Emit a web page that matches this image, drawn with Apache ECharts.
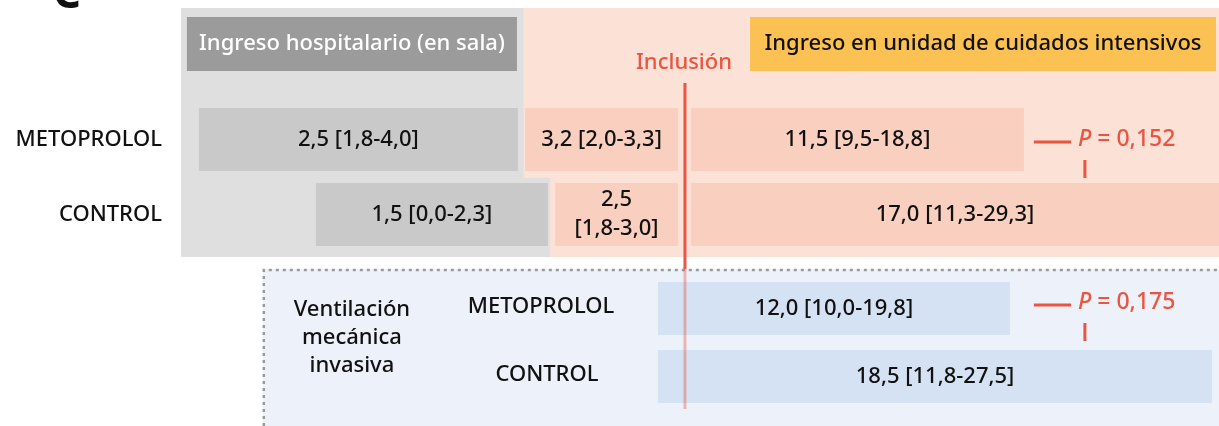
<!DOCTYPE html>
<html>
<head>
<meta charset="utf-8">
<script src="https://cdn.jsdelivr.net/npm/echarts@6/dist/echarts.min.js"></script>
<style>
html,body{margin:0;padding:0;background:#fff}
#chart{width:1219px;height:426px}
</style>
</head>
<body>
<div id="chart"></div>
<script>
var groups = ['METOPROLOL', 'CONTROL'];
var wardStart = [-16.2, -12.3];
var wardEnd = [-5.57, -4.57];
var wardText = ['2,5 [1,8-4,0]', '1,5 [0,0-2,3]'];
var preStart = [-5.33, -4.33];
var preEnd = [-0.23, -0.23];
var preText = ['3,2 [2,0-3,3]', '2,5\n[1,8-3,0]'];
var icuStart = [0.2, 0.2];
var icuEnd = [11.3, 17.8];
var icuText = ['11,5 [9,5-18,8]', '17,0 [11,3-29,3]'];
var ventStart = [-0.9, -0.9];
var ventEnd = [10.83, 17.57];
var ventText = ['12,0 [10,0-19,8]', '18,5 [11,8-27,5]'];
var pValues = ['0,152', '0,175'];
var headers = ['Ingreso hospitalario (en sala)', 'Ingreso en unidad de cuidados intensivos'];
var ventTitle = 'Ventilación\nmecánica\ninvasiva';
var inclusionText = 'Inclusión';

// estilo y posiciones
var FONT = '"Noto Sans", sans-serif';
var FS = 22, FW = 500;
var RED = '#ea5541';
var topRowY = [139.5, 214.5], topBarH = 63;
var ventRowY = [308.5, 376.5], ventBarH = 53;

//construir barras
var bars = [], barMeta = [];
function addPhase(starts, ends, texts, rowsY, h, color) {
    for (var i = 0; i < groups.length; i++) {
        bars.push([starts[i], ends[i], rowsY[i], h]);
        barMeta.push({text: texts[i], color: color});
    }
}
addPhase(wardStart, wardEnd, wardText, topRowY, topBarH, '#c9c9c9');
addPhase(preStart, preEnd, preText, topRowY, topBarH, '#f9d0c0');
addPhase(icuStart, icuEnd, icuText, topRowY, topBarH, '#f9d0c0');
addPhase(ventStart, ventEnd, ventText, ventRowY, ventBarH, '#d5e2f3');

function pts(api, list) {
    return list.map(function (p) { return api.coord(p); });
}
function txt(x, y, text, size, color, align, extra) {
    var s = {text: text, fill: color, fontSize: size, fontFamily: FONT, fontWeight: FW,
        align: align || 'center', verticalAlign: 'middle'};
    for (var k in extra) s[k] = extra[k];
    return {type: 'text', x: x, y: y, style: s};
}

var chart = echarts.init(document.getElementById('chart'));
chart.setOption({
    animation: false,
    grid: {left: 0, right: 0, top: 0, bottom: 0},
    xAxis: {type: 'value', min: -22.83, max: 17.8, show: false},
    yAxis: {type: 'value', min: 0, max: 426, inverse: true, show: false},
    series: [
        {
            // fondos y cabeceras
            type: 'custom', z: 1, silent: true,
            data: [[0]],
            renderItem: function (params, api) {
                var gray = pts(api, [[-16.8, 8], [-5.37, 8], [-5.37, 178], [-4.5, 178], [-4.5, 257], [-16.8, 257]]);
                var pink = pts(api, [[-5.37, 8], [17.8, 8], [17.8, 257], [-4.5, 257], [-4.5, 178], [-5.37, 178]]);
                var b0 = api.coord([-14.07, 269]), b1 = api.coord([17.8, 426]);
                var h0 = api.coord([-16.6, 17]), h1 = api.coord([-5.6, 71]);
                var o0 = api.coord([2.17, 17]), o1 = api.coord([17.7, 71]);
                return {type: 'group', children: [
                    {type: 'polygon', shape: {points: pink}, style: {fill: '#fce1d7'}},
                    {type: 'polygon', shape: {points: gray}, style: {fill: '#dfdfdf'}},
                    {type: 'rect', shape: {x: b0[0], y: b0[1], width: b1[0] - b0[0], height: b1[1] - b0[1]}, style: {fill: '#edf2fa'}},
                    {type: 'polyline', shape: {points: [[b0[0] + 1, b1[1]], [b0[0] + 1, b0[1] + 1], [b1[0], b0[1] + 1]]},
                        style: {stroke: '#9a9a9a', lineWidth: 2.5, lineDash: [3, 4], fill: null}},
                    {type: 'rect', shape: {x: h0[0], y: h0[1], width: h1[0] - h0[0], height: h1[1] - h0[1]},
                        style: {fill: '#9b9b9b'},
                        textContent: {style: {text: headers[0], fill: '#fff', fontSize: FS, fontFamily: FONT, fontWeight: FW}},
                        textConfig: {position: 'inside'}},
                    {type: 'rect', shape: {x: o0[0], y: o0[1], width: o1[0] - o0[0], height: o1[1] - o0[1]},
                        style: {fill: '#fbc152'},
                        textContent: {style: {text: headers[1], fill: '#111', fontSize: FS, fontFamily: FONT, fontWeight: FW}},
                        textConfig: {position: 'inside'}}
                ]};
            }
        },
        {
            // barras
            type: 'custom', z: 3, silent: true,
            encode: {x: [0, 1], y: 2},
            data: bars,
            renderItem: function (params, api) {
                var m = barMeta[params.dataIndex];
                var a = api.coord([api.value(0), api.value(2)]);
                var b = api.coord([api.value(1), api.value(2)]);
                var h = api.size([0, api.value(3)])[1];
                return {
                    type: 'rect',
                    shape: {x: a[0], y: a[1] - h / 2, width: b[0] - a[0], height: h},
                    style: {fill: m.color},
                    textContent: {style: {text: m.text, fill: '#111', fontSize: FS, fontFamily: FONT, fontWeight: FW,
                        align: 'center', lineHeight: 29}},
                    textConfig: {position: 'inside'}
                };
            }
        },
        {
            // textos y anotaciones
            type: 'custom', z: 4, silent: true,
            data: [[0]],
            renderItem: function (params, api) {
                var ch = [];
                var c = api.coord([-20.6, 0]);
                ch.push(txt(c[0], c[1] - 5, 'C', 44, '#111', 'center', {fontWeight: 'bold'}));
                for (var i = 0; i < groups.length; i++) {
                    var p = api.coord([-17.43, topRowY[i]]);
                    ch.push(txt(p[0], p[1], groups[i], FS, '#111', 'right'));
                }
                var vx = [-4.8, -4.6];
                for (i = 0; i < groups.length; i++) {
                    p = api.coord([vx[i], ventRowY[i] - 2]);
                    ch.push(txt(p[0], p[1], groups[i], FS, '#111', 'center'));
                }
                p = api.coord([-11.1, 338]);
                ch.push(txt(p[0], p[1], ventTitle, FS, '#111', 'center', {lineHeight: 28}));
                p = api.coord([-0.03, 63]);
                ch.push(txt(p[0], p[1], inclusionText, FS, RED, 'center'));
                // valores P
                var py = [142, 305];
                for (i = 0; i < pValues.length; i++) {
                    var d0 = api.coord([11.63, py[i]]), d1 = api.coord([12.87, py[i]]);
                    ch.push({type: 'line', shape: {x1: d0[0], y1: d0[1], x2: d1[0], y2: d1[1]},
                        style: {stroke: RED, lineWidth: 3}});
                    var t0 = api.coord([13.33, py[i] + 18]), t1 = api.coord([13.33, py[i] + 36]);
                    ch.push({type: 'line', shape: {x1: t0[0], y1: t0[1], x2: t1[0], y2: t1[1]},
                        style: {stroke: RED, lineWidth: 3}});
                    var tp = api.coord([13.1, py[i] - 3]);
                    ch.push({type: 'text', x: tp[0], y: tp[1], style: {
                        text: '{i|P} = ' + pValues[i], fill: RED, fontSize: 23, fontFamily: FONT, fontWeight: FW,
                        align: 'left', verticalAlign: 'middle',
                        rich: {i: {fontStyle: 'italic', fill: RED, fontSize: 23, fontFamily: FONT, fontWeight: FW}}
                    }});
                }
                return {type: 'group', children: ch};
            }
        },
        {
            // línea de inclusión
            type: 'custom', z: 5, silent: true,
            data: [[0, 83, 269], [0, 269, 409]],
            renderItem: function (params, api) {
                var a = api.coord([api.value(0), api.value(1)]);
                var b = api.coord([api.value(0), api.value(2)]);
                return {type: 'line', shape: {x1: a[0], y1: a[1], x2: b[0], y2: b[1]},
                    style: {stroke: RED, lineWidth: 3, opacity: params.dataIndex === 0 ? 1 : 0.4}};
            }
        }
    ]
});
</script>
</body>
</html>
